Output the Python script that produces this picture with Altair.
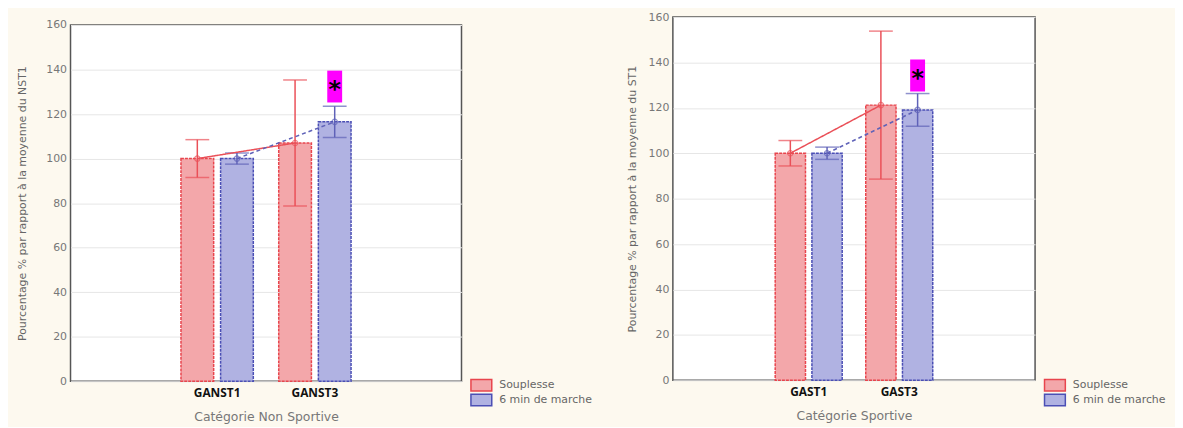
import altair as alt
import pandas as pd

series = ["Souplesse", "6 min de marche"]

left_cats = ["GANST1", "GANST3"]
left_soup_mean = [100, 107]
left_soup_err = [8.5, 28.3]
left_march_mean = [100, 116.5]
left_march_err = [2.5, 7.0]
left_sig = [125.2, 139.5]

right_cats = ["GAST1", "GAST3"]
right_soup_mean = [100, 121.2]
right_soup_err = [5.6, 32.6]
right_march_mean = [100, 119.1]
right_march_err = [2.7, 7.2]
right_sig = [127.2, 141.3]

fill_colors = ["#f3a7aa", "#b0b2e2"]
stroke_colors = ["#e8454d", "#4b4fb5"]
err_colors = ["#ea5058", "#5f62b8"]

FONT = "DejaVu Sans"
SWATCH = "M-2,-1.1L2,-1.1L2,1.1L-2,1.1Z"


def panel(cats, sm, se, mm, me, sig, xtitle, ytitle, width, height, ytitle_pad):
    rows = []
    for i, c in enumerate(cats):
        rows.append(dict(cat=c, series=series[0], mean=sm[i], lo=sm[i] - se[i], hi=sm[i] + se[i]))
        rows.append(dict(cat=c, series=series[1], mean=mm[i], lo=mm[i] - me[i], hi=mm[i] + me[i]))
    df = pd.DataFrame(rows)
    sig_df = pd.DataFrame([dict(cat=cats[1], series=series[1], lo=sig[0], hi=sig[1],
                                mid=(sig[0] + sig[1]) / 2, star="*")])

    xdom = ["_a", cats[0], cats[1], "_b"]
    x = alt.X("cat:N", scale=alt.Scale(domain=xdom, paddingInner=0.26, paddingOuter=0.13),
              axis=alt.Axis(title=xtitle, labelExpr="indexof(datum.label, '_') == 0 ? '' : datum.label",
                            labelAngle=0, labelFontWeight="bold", labelFontSize=12, labelColor="#111",
                            labelFont="Open Sans", ticks=False, domain=False, labelPadding=6,
                            titleFontSize=12.5, titleColor="#777", titleFontWeight="normal",
                            titlePadding=13, titleFont=FONT))
    xo = alt.XOffset("series:N", scale=alt.Scale(domain=series, paddingInner=0.175, paddingOuter=0))
    yscale = alt.Scale(domain=[0, 160])
    y = alt.Y("mean:Q", scale=yscale,
              axis=alt.Axis(title=ytitle, values=list(range(0, 161, 20)), grid=True,
                            gridColor="#e6e6e6", labelColor="#777", labelFontSize=11,
                            labelFont=FONT, ticks=False, domain=False,
                            titleFontSize=11, titleColor="#666", titleFontWeight="normal",
                            titleFont=FONT, titlePadding=ytitle_pad, labelPadding=4))

    leg = alt.Legend(title=None, orient="none", legendX=width + 14, legendY=365,
                     symbolType=SWATCH, symbolSize=110, symbolStrokeWidth=1.5,
                     labelFontSize=11, labelColor="#666", labelFont=FONT, rowPadding=-3,
                     labelOffset=12)
    fill = alt.Fill("series:N", scale=alt.Scale(domain=series, range=fill_colors), legend=leg)
    stroke = alt.Stroke("series:N", scale=alt.Scale(domain=series, range=stroke_colors), legend=leg)

    base = alt.Chart(df)
    bars = base.mark_bar(strokeWidth=1.5, strokeDash=[3, 1]).encode(x=x, xOffset=xo, y=y, fill=fill, stroke=stroke)
    ecol = alt.Color("series:N", scale=alt.Scale(domain=series, range=err_colors), legend=None)
    rule = base.mark_rule(strokeWidth=1.5).encode(x="cat:N", xOffset=xo, y="lo:Q", y2="hi:Q", color=ecol)
    cap_lo = base.mark_tick(size=24, thickness=1.5, orient="horizontal").encode(
        x="cat:N", xOffset=xo, y="lo:Q", color=ecol)
    cap_hi = base.mark_tick(size=24, thickness=1.5, orient="horizontal").encode(
        x="cat:N", xOffset=xo, y="hi:Q", color=ecol)
    line = base.mark_line(strokeWidth=1.5).encode(
        x="cat:N", xOffset=xo, y="mean:Q", color=ecol,
        strokeDash=alt.StrokeDash("series:N", scale=alt.Scale(domain=series, range=[[1, 0], [4, 3]]), legend=None))
    pts = base.mark_point(shape="circle", size=30, filled=False, strokeWidth=1.2).encode(
        x="cat:N", xOffset=xo, y="mean:Q", color=ecol)

    sig_base = alt.Chart(sig_df)
    sig_box = sig_base.mark_bar(width=15, color="#ff00ff").encode(
        x="cat:N", xOffset=alt.XOffset("series:N", scale=alt.Scale(domain=series)), y="lo:Q", y2="hi:Q")
    sig_txt = sig_base.mark_text(fontSize=24, fontWeight="bold", color="#000", dy=4, font="DejaVu Sans").encode(
        x="cat:N", xOffset=alt.XOffset("series:N", scale=alt.Scale(domain=series)), y="mid:Q", text="star:N")

    ch = alt.layer(bars, rule, cap_lo, cap_hi, line, pts, sig_box, sig_txt).properties(
        width=width, height=height)
    return ch.resolve_scale(color="independent")


left = panel(left_cats, left_soup_mean, left_soup_err, left_march_mean, left_march_err, left_sig,
             "Catégorie Non Sportive", "Pourcentage % par rapport à la moyenne du NST1", 394, 359, 18)
right = panel(right_cats, right_soup_mean, right_soup_err, right_march_mean, right_march_err, right_sig,
              "Catégorie Sportive", "Pourcentage % par rapport à la moyenne du ST1", 365, 366, 11)

spacer = alt.Chart(pd.DataFrame({"v": [0]})).mark_point(size=0, opacity=0).properties(
    width=394, height=0.5, view=alt.ViewBackground(stroke=None, fill=None))

left_col = alt.vconcat(spacer, left, spacing=0)

chart = alt.hconcat(left_col, right, spacing=33).resolve_scale(
    fill="independent", stroke="independent", x="independent", y="independent", xOffset="independent"
).resolve_legend(fill="independent", stroke="independent").configure(
    background="#fdf9ef", padding={"left": 8, "top": 0.5, "right": 8, "bottom": 0}
).configure_view(stroke="#555", strokeWidth=1.5, fill="white")

chart.save("out.html", embed_options={"renderer": "svg", "actions": False})
